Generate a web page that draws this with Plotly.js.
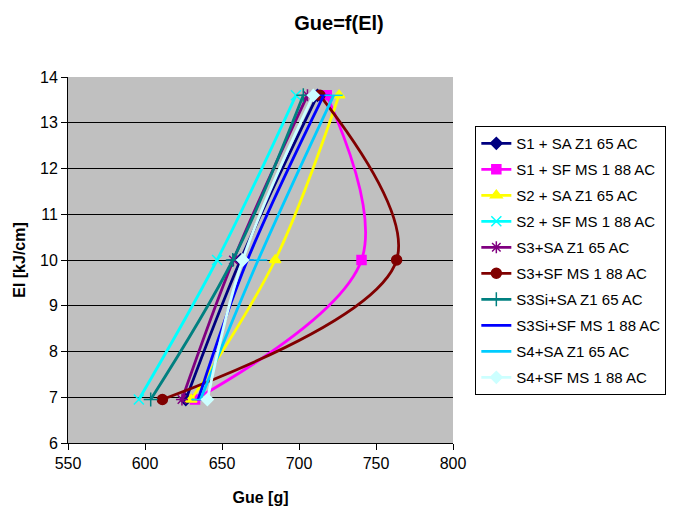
<!DOCTYPE html>
<html>
<head>
<meta charset="utf-8">
<script src="https://cdn.plot.ly/plotly-3.0.1.min.js"></script>
<style>html,body{margin:0;padding:0;background:#fff;}#chart{width:678px;height:516px;}</style>
</head>
<body>
<div id="chart"></div>
<script>
// Series names (legend order)
const seriesNames = [
  "S1 + SA Z1 65 AC",
  "S1 + SF MS 1 88 AC",
  "S2 + SA Z1 65 AC",
  "S2 + SF MS 1 88 AC",
  "S3+SA Z1 65 AC",
  "S3+SF MS 1 88 AC",
  "S3Si+SA Z1 65 AC",
  "S3Si+SF MS 1 88 AC",
  "S4+SA Z1 65 AC",
  "S4+SF MS 1 88 AC"
];
// El [kJ/cm] values (y)
const elValues = [6.95, 10.0, 13.6];
// Gue [g] values (x) per series
const gueS1SA   = [626.5, 662.0, 712.0];
const gueS1SF   = [632.5, 740.6, 718.0];
const gueS2SA   = [630.0, 684.5, 726.0];
const gueS2SF   = [596.0, 646.8, 698.0];
const gueS3SA   = [624.0, 657.4, 705.5];
const gueS3SF   = [611.3, 763.4, 713.6];
const gueS3SiSA = [603.7, 657.0, 702.8];
const gueS3SiSF = [634.5, 666.5, 716.0];
const gueS4SA   = [636.0, 673.5, 722.5];
const gueS4SF   = [640.5, 663.4, 709.3];
const gueSeries = [gueS1SA, gueS1SF, gueS2SA, gueS2SF, gueS3SA, gueS3SF, gueS3SiSA, gueS3SiSF, gueS4SA, gueS4SF];

const colors = ["#000080","#FF00FF","#FFFF00","#00FFFF","#800080","#800000","#008080","#0000FF","#00CCFF","#CCFFFF"];
const symbols = ["diamond","square","triangle-up","x-thin-open","asterisk-open","circle","cross-thin-open","line-ew-open","line-ew-open","diamond"];
const sizes = [9,9,10,10,10,10,10,9,13,9];

const traces = seriesNames.map((name, i) => ({
  type: "scatter",
  mode: "lines+markers",
  name: name,
  legendgroup: "g" + i,
  x: gueSeries[i],
  y: elValues,
  line: {color: colors[i], width: 2.8, shape: "spline", smoothing: 1},
  marker: {symbol: symbols[i], size: sizes[i], color: colors[i], line: {color: colors[i], width: 1.5}}
}));

const layout = {
  width: 678, height: 516,
  paper_bgcolor: "#ffffff",
  plot_bgcolor: "#C0C0C0",
  margin: {l: 68, r: 223, t: 77, b: 73},
  font: {family: "Liberation Sans, Arial, sans-serif", size: 16, color: "#000"},
  title: {text: "<b>Gue=f(El)</b>", x: 0.5, xref: "container", xanchor: "center", y: 0.955, yref: "container", yanchor: "middle", font: {size: 20, color: "#000"}},
  showlegend: true,
  legend: {
    x: 1.058, xanchor: "left", y: 0.866, yanchor: "top",
    bordercolor: "#000", borderwidth: 1, bgcolor: "#fff",
    font: {size: 15, color: "#000"}, tracegroupgap: 3.5, itemwidth: 30
  },
  xaxis: {
    range: [550, 800], dtick: 50, tick0: 550,
    showgrid: false, zeroline: false,
    showline: true, linecolor: "#000", linewidth: 1, mirror: false,
    ticks: "outside", ticklen: 6, tickcolor: "#000",
    tickfont: {size: 16},
    title: {text: "<b>Gue [g]</b>", font: {size: 16}, standoff: 20}
  },
  yaxis: {
    range: [6, 14], dtick: 1, tick0: 6,
    showgrid: true, gridcolor: "#000", gridwidth: 1, zeroline: false,
    showline: true, linecolor: "#000", linewidth: 1,
    ticks: "outside", ticklen: 6, tickcolor: "#000",
    tickfont: {size: 16},
    title: {text: "<b>El [kJ/cm]</b>", font: {size: 16}, standoff: 10}
  }
};

Plotly.newPlot("chart", traces, layout, {displayModeBar: false, staticPlot: true});
</script>
</body>
</html>
